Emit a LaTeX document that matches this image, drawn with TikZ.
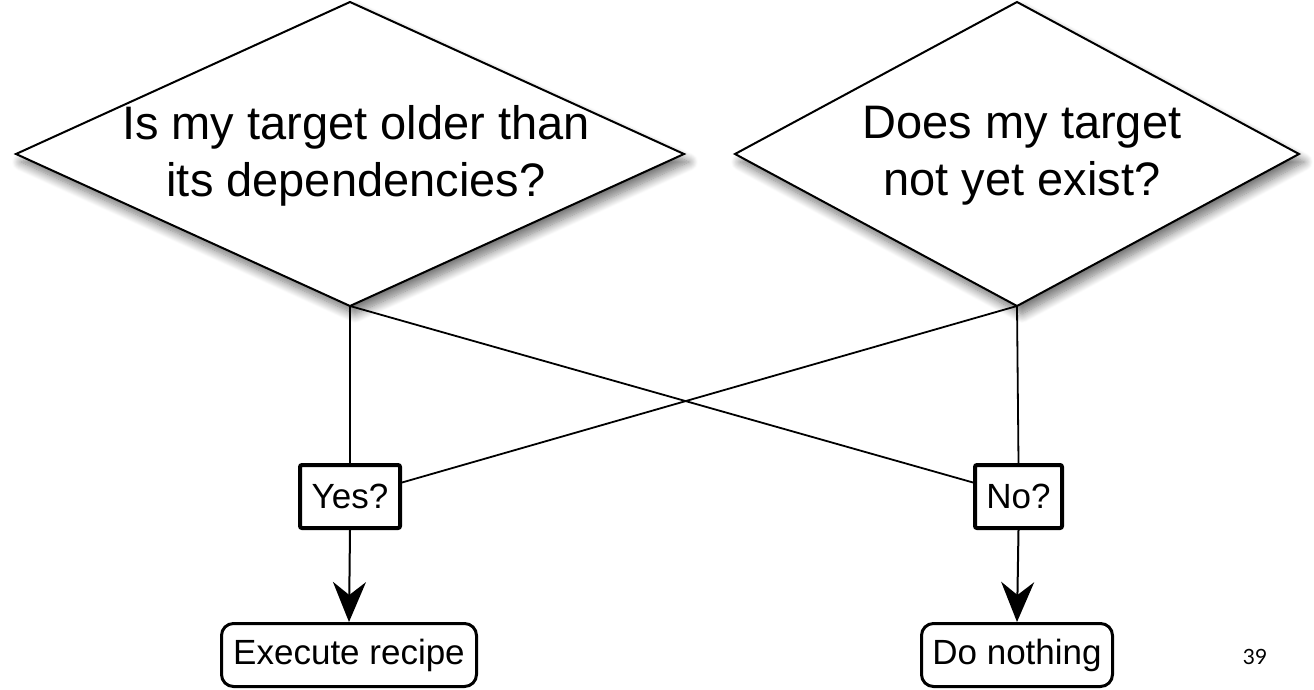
\documentclass[tikz,border=0pt]{standalone}
\usepackage{fontspec}
\setmainfont{Liberation Sans}
\newfontfamily\pagenofont{Lato}
\usetikzlibrary{arrows.meta,shadows.blur}
\begin{document}
\begin{tikzpicture}[x=1pt,y=-1pt,
  dshape/.style={draw=black,line width=2pt,fill=white,line join=miter,
    blur shadow={shadow xshift=5pt,shadow yshift=-8pt,shadow blur radius=9pt,shadow blur steps=12,shadow opacity=55}},
  dtext/.style={align=center,font=\fontsize{47}{57}\selectfont,inner sep=0pt},
  qbox/.style={draw=black,line width=4pt,rounded corners=2pt,fill=white,inner sep=0pt,
    font=\fontsize{35}{40}\selectfont,minimum height=63pt},
  rbox/.style={draw=black,line width=3pt,rounded corners=12pt,fill=white,inner sep=0pt,
    font=\fontsize{35}{40}\selectfont,minimum height=63pt},
  conn/.style={line width=1.8pt,draw=black,opacity=1},
  arr/.style={line width=2pt,draw=black,fill=black,opacity=1,-{Stealth[length=40pt,width=33pt,inset=13pt]}}
]
\useasboundingbox (0,0) rectangle (1314,690);
% diamond corner points
\coordinate (d1l) at (16,154); \coordinate (d1t) at (350,2);
\coordinate (d1r) at (684,154); \coordinate (d1b) at (350,306);
\coordinate (d2l) at (735,154); \coordinate (d2t) at (1017,2);
\coordinate (d2r) at (1299,154); \coordinate (d2b) at (1017,306);
% boxes
\node[qbox,minimum width=100pt] (yes) at (350,496.5) {Yes?};
\node[qbox,minimum width=87pt] (no) at (1018.5,496.5) {No?};
\node[rbox,minimum width=255pt] (exec) at (349,655) {Execute recipe};
\node[rbox,minimum width=191pt] (none) at (1017,655) {Do nothing};
\coordinate (yesR) at ([yshift=14pt]yes.east);
\coordinate (noL) at ([yshift=14pt]no.west);
% connectors
\draw[conn] (d1b) -- (yes.north);
\draw[conn] (d1b) -- (noL);
\draw[conn] (d2b) -- (no.north);
\draw[conn] (d2b) -- (yesR);
\draw[arr] (yes.south) -- (exec.north);
\draw[arr] (no.south) -- (none.north);
\node[font=\pagenofont\fontsize{21}{24}\selectfont] (pg) at (1255,657) {39};
% diamonds
\path[dshape] (d1l) -- (d1t) -- (d1r) -- (d1b) -- cycle;
\path[dshape] (d2l) -- (d2t) -- (d2r) -- (d2b) -- cycle;
\node[dtext] (q1) at (356,156) {Is my target older than\\its dependencies?};
\node[dtext] (q2) at (1022,156) {Does my target\\not yet exist?};
\end{tikzpicture}
\end{document}
